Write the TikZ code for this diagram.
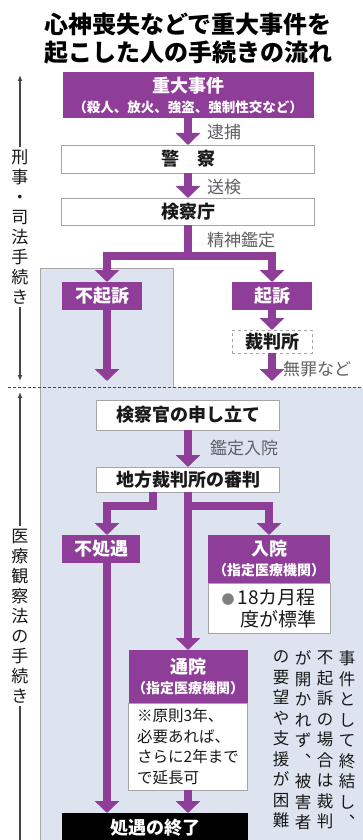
\documentclass[tikz,border=0pt]{standalone}
\usepackage{fontspec}
\newfontfamily\jp{Noto Sans CJK JP}
\usetikzlibrary{arrows.meta}
\definecolor{pur}{RGB}{142,62,152}
\definecolor{lblue}{RGB}{221,228,240}
\definecolor{bgray}{RGB}{165,165,170}
\definecolor{txt}{RGB}{25,25,25}
\definecolor{lbl}{RGB}{95,95,100}
\definecolor{axisc}{RGB}{70,70,70}
\newcommand{\fsz}[2]{\fontsize{#1}{#2}\selectfont}
\begin{document}
\begin{tikzpicture}[x=1pt,y=-1pt,
  every node/.style={font=\jp,inner sep=0pt,outer sep=0pt},
  pbox/.style={fill=pur,text=white,align=center,font=\jp\bfseries\fsz{18}{20}},
  wbox/.style={fill=white,draw=bgray,line width=0.9pt,text=txt,align=center,font=\jp\bfseries\fsz{18}{20}},
  lab/.style={text=lbl,anchor=west,font=\jp\fsz{17}{19}},
  flow/.style={draw=pur,line width=8.5pt,-{Triangle[width=24pt,length=12pt]}},
  flowline/.style={draw=pur,line width=8.5pt},
  vlab/.style={align=center,text=txt,font=\jp\fsz{17}{20},fill=white,inner sep=3pt},
  vcol/.style={align=center,anchor=north,text=txt,font=\jp\fsz{16.5}{20.5}},
  axisl/.style={draw=axisc,line width=1.3pt}
]
\useasboundingbox (0,0) rectangle (363,840);
\fill[white] (0,0) rectangle (363,840);
% backgrounds
\fill[lblue] (40,268) rectangle (173,387);
\draw[bgray,line width=0.8pt] (40,387) -- (40,268) -- (173,268) -- (173,387);
\fill[lblue] (40,387) rectangle (363,840);
\draw[bgray,line width=0.8pt] (40,387) -- (40,840);
\draw[axisc,densely dashed,line width=0.9pt] (8,387) -- (363,387);

% title
\node[font=\jp\bfseries\fsz{24}{28},text=black,align=center] (title) at (188,39) {心神喪失などで重大事件を\\起こした人の手続きの流れ};

% upper nodes
\node[pbox,minimum width=251,minimum height=46] (jiken) at (188,95) {重大事件\\{\fsz{13.5}{20}（殺人、放火、強盗、強制性交など）}};
\node[wbox,minimum width=253,minimum height=28] (keisatsu) at (188,159) {警　察};
\node[wbox,minimum width=253,minimum height=27] (kensatsu) at (188,211.5) {検察庁};
\node[pbox,minimum width=80,minimum height=28] (fukiso) at (102,296) {不起訴};
\node[pbox,minimum width=80,minimum height=28] (kiso) at (272,296) {起訴};
\node[wbox,dashed,minimum width=80,minimum height=23] (saiban) at (272,341.5) {裁判所};

\node[lab] (taiho) at (207,132) {逮捕};
\node[lab] (souken) at (207,187) {送検};
\node[lab] (kantei) at (207,240) {精神鑑定};
\node[lab] (muzai) at (283,369) {無罪など};

% lower nodes
\node[wbox,minimum width=183,minimum height=30] (moushi) at (188,415) {検察官の申し立て};
\node[wbox,minimum width=183,minimum height=25] (chiho) at (188,479.5) {地方裁判所の審判};
\node[lab] (kanteinyuin) at (210,448) {鑑定入院};
\node[pbox,minimum width=78,minimum height=28] (fushogu) at (101,549) {不処遇};
\node[pbox,minimum width=122,minimum height=48] (nyuin) at (269,559) {入院\\{\fsz{14}{20}（指定医療機関）}};
\node[wbox,minimum width=122,minimum height=50,align=left,font=\jp\fsz{19}{22}] (nyuinw) at (269,608) {{\color{gray}\fsz{13}{22}●}\,18カ月程\\　度が標準};
\node[pbox,minimum width=119,minimum height=53] (tsuin) at (188,676.5) {通院\\{\fsz{14}{20}（指定医療機関）}};
\node[wbox,minimum width=119,minimum height=87,align=left,font=\jp\fsz{15.5}{20.5}] (tsuinw) at (188,746.5) {※原則3年、\\必要あれば、\\さらに2年まで\\で延長可};
\node[fill=black,text=white,font=\jp\bfseries\fsz{18}{20},minimum width=186,minimum height=30] (shuryo) at (155,828) {処遇の終了};

% right vertical text
\node[vcol] (c1) at (347,651) {事\\件\\と\\し\\て\\終\\結\\し\\︑};
\node[vcol] (c2) at (325,651) {不\\起\\訴\\の\\場\\合\\は\\裁\\判};
\node[vcol] (c3) at (303,651) {が\\開\\か\\れ\\ず\\︑\\被\\害\\者};
\node[vcol] (c4) at (281,651) {の\\要\\望\\や\\支\\援\\が\\困\\難};

% left axis
\coordinate (a1t) at (20,75);
\coordinate (a1b) at (20,381);
\node[vlab] (lab1) at (20,227) {刑\\事\\・\\司\\法\\手\\続\\き};
\draw[axisl,{Latex[length=6pt,width=5pt]}-] (a1t) -- (lab1.north);
\draw[axisl,-{Latex[length=6pt,width=5pt]}] (lab1.south) -- (a1b);
\coordinate (a2t) at (20,392);
\coordinate (a2b) at (20,842);
\node[vlab] (lab2) at (20,616) {医\\療\\観\\察\\法\\の\\手\\続\\き};
\draw[axisl,{Latex[length=6pt,width=5pt]}-] (a2t) -- (lab2.north);
\draw[axisl] (lab2.south) -- (a2b);

% arrows upper
\draw[flow] (jiken) -- (keisatsu);
\draw[flow] (keisatsu) -- (kensatsu);
\coordinate (j1) at (188,256);
\draw[flowline] (kensatsu.south) -- (j1);
\draw[flow] (j1) -| ([xshift=5]fukiso.north);
\draw[flow] (j1) -| (kiso.north);
\coordinate (e1) at (107,381);
\draw[flow] ([xshift=5]fukiso.south) -- (e1);
\draw[flow] (kiso) -- (saiban);
\coordinate (e2) at (272,381);
\draw[flow] (saiban) -- (e2);

% arrows lower
\draw[flow] (moushi) -- (chiho);
\draw[flow] (chiho) -- (tsuin);
\coordinate (j2) at (188,506);
\draw[flow] (j2) -| (nyuin.north);
\coordinate (j3) at (153,506);
\draw[flow] (chiho.south -| j3) -- (j3) -| ([xshift=6]fushogu.north);
\draw[flow] ([xshift=6]fushogu.south) -- ([xshift=6]fushogu.south |- shuryo.north);
\draw[flow] (tsuinw.south) -- (tsuinw.south |- shuryo.north);
\end{tikzpicture}
\end{document}
